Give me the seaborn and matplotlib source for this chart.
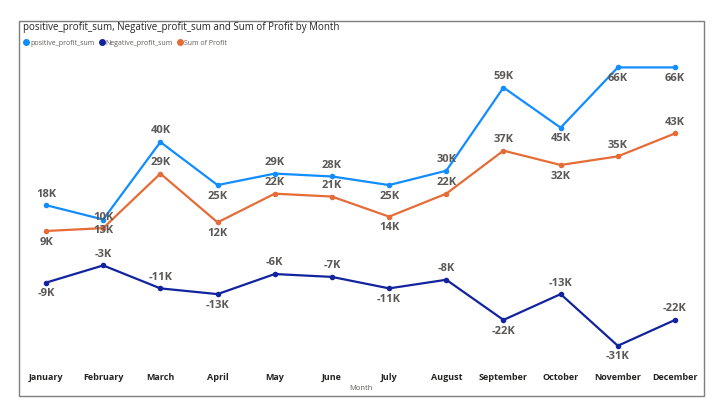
import matplotlib
matplotlib.use("Agg")
import matplotlib.pyplot as plt
from matplotlib.lines import Line2D
from matplotlib.patches import Rectangle
import seaborn as sns
import pandas as pd

months = ["January", "February", "March", "April", "May", "June", "July",
          "August", "September", "October", "November", "December"]
positive_profit_sum = [18, 13, 40, 25, 29, 28, 25, 30, 59, 45, 66, 66]
negative_profit_sum = [-9, -3, -11, -13, -6, -7, -11, -8, -22, -13, -31, -22]
sum_of_profit = [9, 10, 29, 12, 22, 21, 14, 22, 37, 32, 35, 43]
series_names = ["positive_profit_sum", "Negative_profit_sum", "Sum of Profit"]
colors = ["#118DFF", "#12239E", "#E66C37"]

# label placement: +1 above, -1 below
pos_place = [1, -1, 1, -1, 1, 1, -1, 1, 1, -1, -1, -1]
neg_place = [-1, 1, 1, -1, 1, 1, -1, 1, -1, 1, -1, 1]
sum_place = [-1, 1, 1, -1, 1, 1, -1, 1, 1, -1, 1, 1]

sns.set_theme(style="white")
plt.rcParams["font.family"] = ["Open Sans", "DejaVu Sans"]

rows = []
for name, vals in zip(series_names, [positive_profit_sum, negative_profit_sum, sum_of_profit]):
    for i, (m, v) in enumerate(zip(months, vals)):
        rows.append({"Month": m, "idx": i, "series": name, "value": v})
df = pd.DataFrame(rows)

fig = plt.figure(figsize=(7.2, 4.16), dpi=100)
ax = fig.add_axes([0.0242, 0.1226, 0.953, 0.745])

sns.lineplot(data=df, x="idx", y="value", hue="series", hue_order=series_names,
             palette=colors, marker="o", markersize=4, markeredgewidth=0,
             linewidth=1.6, ax=ax, legend=False)

label_color = "#5A5856"
for vals, places in [(positive_profit_sum, pos_place), (negative_profit_sum, neg_place),
                     (sum_of_profit, sum_place)]:
    for i, (v, p) in enumerate(zip(vals, places)):
        ax.annotate(f"{v}K", (i, v), xytext=(0, 8 * p), textcoords="offset points",
                    ha="center", va="center", fontsize=8, fontweight="bold",
                    color=label_color)

ax.set_xlim(-0.5, 11.5)
ax.set_ylim(-37.7, 70.3)
ax.set_xticks(range(len(months)))
ax.set_xticklabels(months, fontsize=6.5, fontweight="bold", color="#252423")
ax.set_yticks([])
ax.tick_params(axis="x", length=0, pad=6)
ax.set_xlabel("Month", fontsize=5.5, color="#605E5C", labelpad=2)
ax.set_ylabel("")
for s in ax.spines.values():
    s.set_visible(False)
ax.patch.set_alpha(0)

# frame
fig.patches.append(Rectangle((0.0264, 0.048), 0.951, 0.901, transform=fig.transFigure,
                             fill=False, edgecolor="#7F7F7F", linewidth=1.0))

fig.text(0.032, 0.933, "positive_profit_sum, Negative_profit_sum and Sum of Profit by Month",
         fontsize=7, color="#252423", va="center", ha="left")

handles = [Line2D([], [], marker="o", linestyle="none", color=c, markersize=4)
           for c in colors]
fig.legend(handles, series_names, loc="center left", bbox_to_anchor=(0.028, 0.896),
           ncol=3, frameon=False, fontsize=5, handletextpad=0.0, columnspacing=0.6,
           labelcolor="#605E5C", handlelength=1.0, borderaxespad=0)

fig.savefig("out.png", dpi=100)
